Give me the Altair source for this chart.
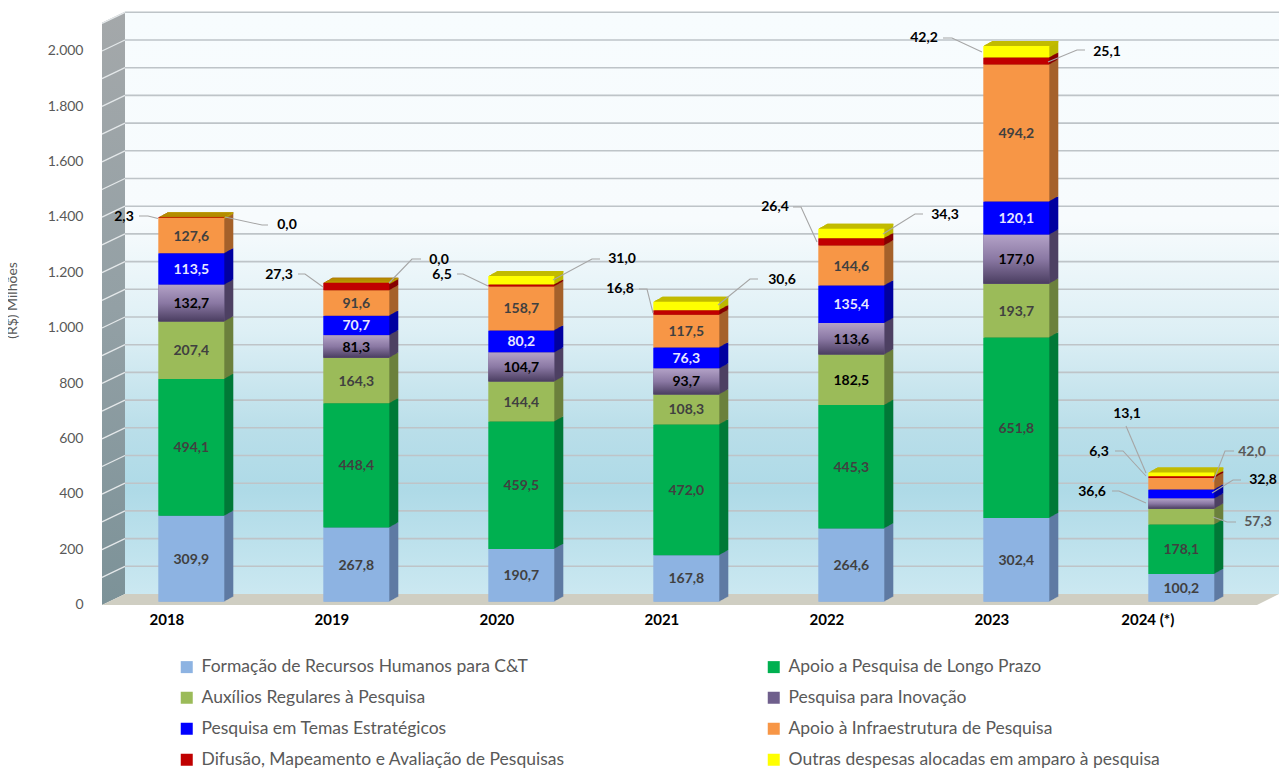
import altair as alt
import pandas as pd

years = ["2018", "2019", "2020", "2021", "2022", "2023", "2024 (*)"]
formacao = [309.9, 267.8, 190.7, 167.8, 264.6, 302.4, 100.2]
longo_prazo = [494.1, 448.4, 459.5, 472.0, 445.3, 651.8, 178.1]
auxilios = [207.4, 164.3, 144.4, 108.3, 182.5, 193.7, 57.3]
inovacao = [132.7, 81.3, 104.7, 93.7, 113.6, 177.0, 36.6]
temas = [113.5, 70.7, 80.2, 76.3, 135.4, 120.1, 32.8]
infra = [127.6, 91.6, 158.7, 117.5, 144.6, 494.2, 42.0]
difusao = [2.3, 27.3, 6.5, 16.8, 26.4, 25.1, 6.3]
outras = [0.0, 0.0, 31.0, 30.6, 34.3, 42.2, 13.1]

names = [
    "Formação de Recursos Humanos para C&T",
    "Apoio a Pesquisa de Longo Prazo",
    "Auxílios Regulares à Pesquisa",
    "Pesquisa para Inovação",
    "Pesquisa em Temas Estratégicos",
    "Apoio à Infraestrutura de Pesquisa",
    "Difusão, Mapeamento e Avaliação de Pesquisas",
    "Outras despesas  alocadas em amparo à pesquisa",
]
series_values = [formacao, longo_prazo, auxilios, inovacao, temas, infra, difusao, outras]
front_colors = ["#8DB3E2", "#00B050", "#9BBB59", "#6F5F8C", "#0000FF", "#F79646", "#C00000", "#FFFF00"]
side_colors = ["#5F7BA3", "#007A38", "#6B803C", "#4E4163", "#0000A0", "#A5622B", "#860000", "#BDB800"]
legend_order = [names[0], names[2], names[4], names[6], names[1], names[3], names[5], names[7]]

# page origin of the plot group
OX, OY = 88, 8
PW, PH = 1191, 597
Y0, Y2100 = 601.7 - OY, 20.0 - OY
BAND_START, BAND_END = 108.8 - OX, 1263.8 - OX
PER_UNIT = (Y0 - Y2100) / 2100

x_scale = alt.Scale(domain=years, range=[BAND_START, BAND_END], paddingInner=0.6, paddingOuter=0.3)
y_scale = alt.Scale(domain=[0, 2100], range=[Y0, Y2100], nice=False, clamp=False)

rows = []
for yi, yr in enumerate(years):
    base = 0.0
    for si, nm in enumerate(names):
        v = series_values[si][yi]
        rows.append(dict(year=yr, series=nm, value=v, y0=base, y1=base + v, mid=base + v / 2,
                         side=side_colors[si], text=f"{v:.1f}".replace(".", ",")))
        base += v
df = pd.DataFrame(rows)

# olive lid sitting on every stack
caps = pd.DataFrame([dict(year=yr, series="lid", value=0, y0=df[df.year == yr].y1.max() - 6,
                          y1=df[df.year == yr].y1.max(), mid=0, side="#C4BC00", text="")
                     for yr in years])
side_df = pd.concat([df, caps], ignore_index=True)

NOX = alt.X("year:N", scale=x_scale)
FONT = "Lato"

# --- walls ---------------------------------------------------------------
wall_grad = alt.Gradient(gradient="linear", x1=0, y1=0, x2=0, y2=1, stops=[
    alt.GradientStop(offset=0, color="#F7FCFE"),
    alt.GradientStop(offset=0.36, color="#F7FBFD"),
    alt.GradientStop(offset=0.55, color="#DDEFF5"),
    alt.GradientStop(offset=0.72, color="#B9DEE9"),
    alt.GradientStop(offset=0.82, color="#AEDAE7"),
    alt.GradientStop(offset=1, color="#CBE8F1")])
left_grad = alt.Gradient(gradient="linear", x1=0, y1=0, x2=0, y2=1, stops=[
    alt.GradientStop(offset=0, color="#A4A8AA"),
    alt.GradientStop(offset=0.5, color="#93A0A5"),
    alt.GradientStop(offset=1, color="#7C9298")])

marker = pd.DataFrame({"k": [0]})
back = alt.Chart(marker).mark_rect(color=wall_grad).encode(
    x=alt.value(125 - OX), x2=alt.value(1279 - OX), y=alt.value(11.7 - OY), y2=alt.value(594 - OY))

wall_df = pd.DataFrame({"px": [102 - OX, 125 - OX], "top": [22.7 - OY, 11.7 - OY], "bot": [605 - OY, 594 - OY]})
left = alt.Chart(wall_df).mark_area(color=left_grad).encode(
    x=alt.X("px:Q", scale=None), y=alt.Y("bot:Q", scale=None), y2="top:Q")

floor_df = pd.DataFrame({"px": [102 - OX, 125 - OX, 1257 - OX, 1279 - OX],
                         "top": [605 - OY, 594 - OY, 594 - OY, 594 - OY],
                         "bot": [605 - OY, 605 - OY, 605 - OY, 594 - OY]})
floor = alt.Chart(floor_df).mark_area(color="#CFCEC2").encode(
    x=alt.X("px:Q", scale=None), y=alt.Y("bot:Q", scale=None), y2="top:Q")

ticks = list(range(0, 2101, 100))
grid_df = pd.DataFrame({"v": ticks[1:], "up": [t + 11 / PER_UNIT for t in ticks[1:]]})
grid = alt.Chart(grid_df).mark_rule(color="#BEC4C8", strokeWidth=1.6, yOffset=-7.7).encode(
    x=alt.value(125 - OX), x2=alt.value(1279 - OX), y=alt.Y("v:Q", scale=y_scale))
wall_grid = alt.Chart(grid_df).mark_rule(color="#E4E8EA", strokeWidth=1.3, yOffset=3.3, y2Offset=3.3).encode(
    x=alt.value(102 - OX), x2=alt.value(125 - OX), y=alt.Y("v:Q", scale=y_scale), y2="up:Q")

# --- 3D depth: the stack repeated step by step behind the front face ------
DEPTH = 9
sides = []
for i in range(DEPTH, 0, -1):
    off = i * 5 / DEPTH
    sides.append(alt.Chart(side_df).mark_bar(xOffset=i, x2Offset=i, yOffset=-off, y2Offset=-off).encode(
        x=NOX, y=alt.Y("y0:Q", scale=y_scale), y2="y1:Q",
        color=alt.Color("side:N", scale=None)))

# --- front faces -----------------------------------------------------------
front = alt.Chart(df).mark_bar().encode(
    x=alt.X("year:N", scale=x_scale, title=None,
            axis=alt.Axis(labelAngle=0, domain=False, ticks=False, labelFont=FONT, labelFontSize=15,
                          labelFontWeight="bold", labelColor="#000000", labelPadding=14, labelOffset=-7)),
    y=alt.Y("y0:Q", scale=y_scale,
            axis=alt.Axis(title="(R$) Milhões", titleFont=FONT, titleFontSize=14, titleFontWeight="normal",
                          titleColor="#595959", titleX=19 - OX, titleY=292, titleAngle=270,
                          values=ticks, domain=False, ticks=False, grid=False, labelFont=FONT,
                          labelFontSize=14, labelColor="#595959", labelPadding=5, labelOffset=3,
                          labelExpr="replace(format(datum.value, ','), ',', '.')")),
    y2="y1:Q",
    color=alt.Color("series:N", scale=alt.Scale(domain=names, range=front_colors),
                    legend=alt.Legend(title=None, orient="none", legendX=90, legendY=650, columns=2,
                                      values=legend_order, symbolType="square", symbolSize=144,
                                      symbolStrokeWidth=0, symbolOpacity=1, labelFont=FONT, labelFontSize=17.5,
                                      labelColor="#595959", labelLimit=600, rowPadding=12,
                                      columnPadding=200, labelOffset=6)),
)

purple_grad = alt.Gradient(gradient="linear", x1=0, y1=0, x2=0, y2=1, stops=[
    alt.GradientStop(offset=0, color="#B3A2C7"),
    alt.GradientStop(offset=0.5, color="#8A78A3"),
    alt.GradientStop(offset=1, color="#4A3D60")])
purple = alt.Chart(df[df.series == names[3]]).mark_bar(color=purple_grad).encode(
    x=NOX, y=alt.Y("y0:Q", scale=y_scale), y2="y1:Q")

# --- value labels inside the segments ---------------------------------------
outside = {("2024 (*)", n) for n in names[2:]}
inside_df = df[~df.series.isin(names[6:]) & ~df.apply(lambda r: (r.year, r.series) in outside, axis=1)].copy()
def ink(r):
    if r.series == names[4]:
        return "#E8E8FF"
    if r.series == names[3] or (r.series == names[2] and r.year == "2022"):
        return "#000000"
    return "#404040"
inside_df["ink"] = inside_df.apply(ink, axis=1)
inside = alt.Chart(inside_df).mark_text(font=FONT, fontSize=14, fontWeight="bold", baseline="middle", dy=1).encode(
    x=NOX, y=alt.Y("mid:Q", scale=y_scale), text="text:N",
    color=alt.Color("ink:N", scale=None))

# --- callouts: year, series index, label centre on page, ink, leader on page ---
callouts = [
    ("2018", 6, 124, 216.5, "#000000", [(139, 216), (148, 216), (158, 218.5)]),
    ("2018", 7, 287, 225, "#000000", [(225, 217), (262, 225), (268, 225)]),
    ("2019", 6, 279, 275, "#000000", [(298, 274), (305, 274), (323, 287)]),
    ("2019", 7, 439, 260, "#000000", [(389, 283), (412, 259), (421, 259)]),
    ("2020", 6, 442, 275, "#000000", [(457, 274), (463, 274), (488, 286)]),
    ("2020", 7, 622, 259, "#000000", [(553, 280), (592, 259), (600, 259)]),
    ("2021", 6, 620, 289, "#000000", [(639, 289), (647, 289), (653, 313)]),
    ("2021", 7, 782, 280, "#000000", [(718, 305), (750, 279), (758, 279)]),
    ("2022", 6, 775, 207, "#000000", [(793, 207), (801, 207), (817, 242)]),
    ("2022", 7, 945, 215, "#000000", [(883, 234), (915, 214), (923, 214)]),
    ("2023", 7, 924, 38, "#000000", [(943, 38), (952, 38), (982, 52)]),
    ("2023", 6, 1107, 52, "#000000", [(1048, 62), (1077, 50), (1085, 50)]),
    ("2024 (*)", 7, 1127, 414, "#000000", [(1126, 426), (1146, 473)]),
    ("2024 (*)", 6, 1099, 452, "#000000", [(1115, 451), (1123, 451), (1146, 476)]),
    ("2024 (*)", 3, 1092, 492, "#000000", [(1112, 491), (1119, 491), (1146, 503)]),
    ("2024 (*)", 5, 1252, 452, "#595959", [(1213, 482), (1225, 451), (1234, 451)]),
    ("2024 (*)", 4, 1263, 480, "#000000", [(1212, 493), (1233, 480), (1241, 480)]),
    ("2024 (*)", 2, 1258, 522, "#595959", [(1213, 517), (1227, 522), (1236, 522)]),
]

step = (BAND_END - BAND_START) / len(years)
leader_rows = []
callout_layers = []
for cid, (yr, si, lx, ly, col, pts) in enumerate(callouts):
    for j, (a, b) in enumerate(pts):
        leader_rows.append(dict(cid=cid, j=j, px=a - OX, py=b - OY))
    row = df[(df.year == yr) & (df.series == names[si])]
    xc = BAND_START + step * (0.3 + years.index(yr)) + 33
    yc = Y0 - float(row.mid.iloc[0]) * PER_UNIT
    callout_layers.append(
        alt.Chart(row).mark_text(font=FONT, fontSize=14, fontWeight="bold", baseline="middle", color=col,
                                 dx=(lx - OX) - xc, dy=(ly - OY) - yc).encode(
            x=NOX, y=alt.Y("mid:Q", scale=y_scale), text="text:N"))

leaders = alt.Chart(pd.DataFrame(leader_rows)).mark_line(color="#A6A6A6", strokeWidth=1.1).encode(
    x=alt.X("px:Q", scale=None), y=alt.Y("py:Q", scale=None),
    detail="cid:N", order="j:Q")

chart = alt.layer(back, left, floor, grid, wall_grid, *sides, front, purple, inside, leaders, *callout_layers).properties(
    width=PW, height=PH, background="#FFFFFF",
    padding={"left": OX - 8, "top": 0, "right": 0, "bottom": 172},
    autosize=alt.AutoSizeParams(type="none"),
).configure_view(stroke=None)

chart.save("out.html", embed_options={"renderer": "svg", "actions": False})
